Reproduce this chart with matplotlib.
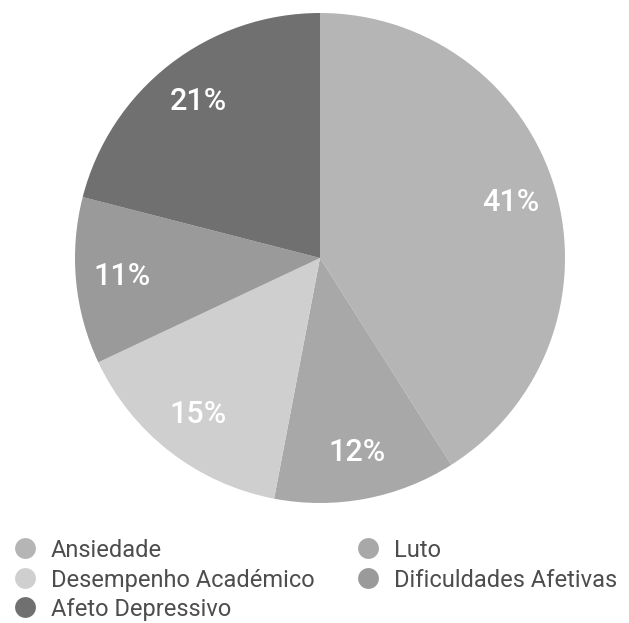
import matplotlib
matplotlib.use('Agg')
import matplotlib.pyplot as plt
from matplotlib.lines import Line2D

plt.rcParams['font.family'] = ['Roboto', 'DejaVu Sans']

# dados
categorias = ['Ansiedade', 'Luto', 'Desempenho Académico', 'Dificuldades Afetivas', 'Afeto Depressivo']
valores = [41, 12, 15, 11, 21]
cores = ['#b5b5b5', '#a8a8a8', '#cfcfcf', '#9a9a9a', '#707070']

W, H = 629, 623
fig = plt.figure(figsize=(W / 100, H / 100), dpi=100)

# pie: centro (320,258) px, raio 245 px
cx, cy, r = 320, 258, 245
ax = fig.add_axes([(cx - r) / W, (H - cy - r) / H, 2 * r / W, 2 * r / H])
wedges, texts, autotexts = ax.pie(valores, colors=cores, startangle=90, counterclock=False,
                                  autopct='%d%%', pctdistance=0.81,
                                  wedgeprops=dict(linewidth=0))
for t in autotexts:
    t.set_color('white')
    t.set_fontsize(22)
    t.set_fontweight('medium')
ax.set_xlim(-1, 1)
ax.set_ylim(-1, 1)
ax.set_aspect('equal')
ax.axis('off')

# legenda feita à mão, por linhas, duas colunas
col_x = [25, 368]      # centro do círculo, px
row_y = [548, 578, 607]
for i, (nome, cor) in enumerate(zip(categorias, cores)):
    lx = col_x[i % 2]
    ly = row_y[i // 2]
    fig.add_artist(Line2D([lx / W], [1 - ly / H], transform=fig.transFigure,
                          marker='o', markersize=15, markerfacecolor=cor,
                          markeredgewidth=0, linestyle=''))
    fig.text((lx + 26) / W, 1 - ly / H, nome, fontsize=17, color='#4d4d4d',
             ha='left', va='center_baseline')

fig.savefig('out.png', dpi=100)
